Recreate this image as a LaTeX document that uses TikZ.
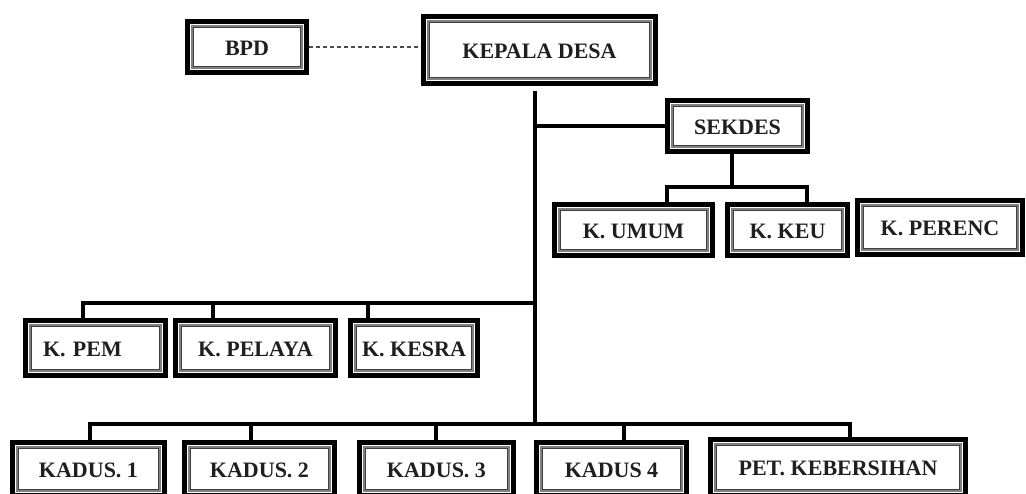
\documentclass[tikz,border=0pt]{standalone}
\usepackage{fontspec}
\setmainfont{Liberation Serif}
\begin{document}
\begin{tikzpicture}[x=1pt,y=-1pt,
  orgbox/.style={draw=black, line width=5.5pt, inner sep=0pt, fill=white,
    font=\bfseries\fontsize{22}{24}\selectfont, text=black!88, text height=17pt,
    path picture={
      \draw[black!50, line width=1.5pt]
        ([shift={(4.3pt,4.3pt)}]path picture bounding box.south west) rectangle
        ([shift={(-4.3pt,-4.3pt)}]path picture bounding box.north east);
      \draw[black!75, line width=1pt]
        ([shift={(6.4pt,6.4pt)}]path picture bounding box.south west) rectangle
        ([shift={(-6.4pt,-6.4pt)}]path picture bounding box.north east);
    }},
  conn/.style={line width=3.4pt, black},
  dashline/.style={line width=1.5pt, black!70, dash pattern=on 4pt off 3pt}
]
\useasboundingbox (0,0) rectangle (1026,494);

% top
\node[orgbox, minimum width=119pt, minimum height=51pt] (BPD) at (247,47) {BPD};
\node[orgbox, minimum width=232pt, minimum height=67pt] (KEPALA) at (539.5,50) {KEPALA DESA};
\node[orgbox, minimum width=140pt, minimum height=51pt] (SEKDES) at (737.5,126) {SEKDES};
\node[orgbox, minimum width=158pt, minimum height=51pt] (KUMUM) at (633.5,230) {K. UMUM};
\node[orgbox, minimum width=120pt, minimum height=51pt] (KKEU) at (787.5,230) {K. KEU};
\node[orgbox, minimum width=165pt, minimum height=54pt] (KPERENC) at (940,227.5) {K. PERENC};

% middle
\node[orgbox, minimum width=140pt, minimum height=55pt, text width=105pt, align=left, inner xsep=17.5pt] (KPEM) at (95.5,348) {K. PEM};
\node[orgbox, minimum width=160pt, minimum height=55pt] (KPELAYA) at (255.5,348) {K. PELAYA};
\node[orgbox, minimum width=127pt, minimum height=55pt] (KKESRA) at (414,348) {K. KESRA};

% bottom
\node[orgbox, minimum width=152pt, minimum height=53pt] (KADUS1) at (88.5,469) {KADUS. 1};
\node[orgbox, minimum width=150pt, minimum height=53pt] (KADUS2) at (259.5,469) {KADUS. 2};
\node[orgbox, minimum width=154pt, minimum height=53pt] (KADUS3) at (436.5,469) {KADUS. 3};
\node[orgbox, minimum width=150pt, minimum height=53pt] (KADUS4) at (611.5,469) {KADUS 4};
\node[orgbox, minimum width=255pt, minimum height=56pt] (PET) at (838,467.5) {PET. KEBERSIHAN};

% connectors
\draw[dashline] (BPD.east) -- (BPD.east -| KEPALA.west);

\coordinate (vtop) at (535,91);
\coordinate (lj) at (535,303);
\coordinate (bj) at (535,424);
\draw[conn] (vtop) -- (bj);
\draw[conn] (vtop |- SEKDES.west) -- (SEKDES.west);

\coordinate (sd) at (732,187);
\draw[conn] (sd |- SEKDES.south) -- (sd);
\draw[conn] ([xshift=33.5pt]KUMUM.north) |- (sd) -| ([xshift=19.5pt]KKEU.north);

\draw[conn] ([xshift=-12.5pt]KPEM.north) |- (lj);
\draw[conn] ([xshift=-42.5pt]KPELAYA.north) -- ([xshift=-42.5pt]KPELAYA.north |- lj);
\draw[conn] ([xshift=-46pt]KKESRA.north) -- ([xshift=-46pt]KKESRA.north |- lj);

\draw[conn] ([xshift=1.5pt]KADUS1.north) |- ([xshift=12pt]PET.north |- bj) -- ([xshift=12pt]PET.north);
\draw[conn] ([xshift=-8.5pt]KADUS2.north) -- ([xshift=-8.5pt]KADUS2.north |- bj);
\draw[conn] ([xshift=-0.5pt]KADUS3.north) -- ([xshift=-0.5pt]KADUS3.north |- bj);
\draw[conn] ([xshift=12.5pt]KADUS4.north) -- ([xshift=12.5pt]KADUS4.north |- bj);
\end{tikzpicture}
\end{document}
